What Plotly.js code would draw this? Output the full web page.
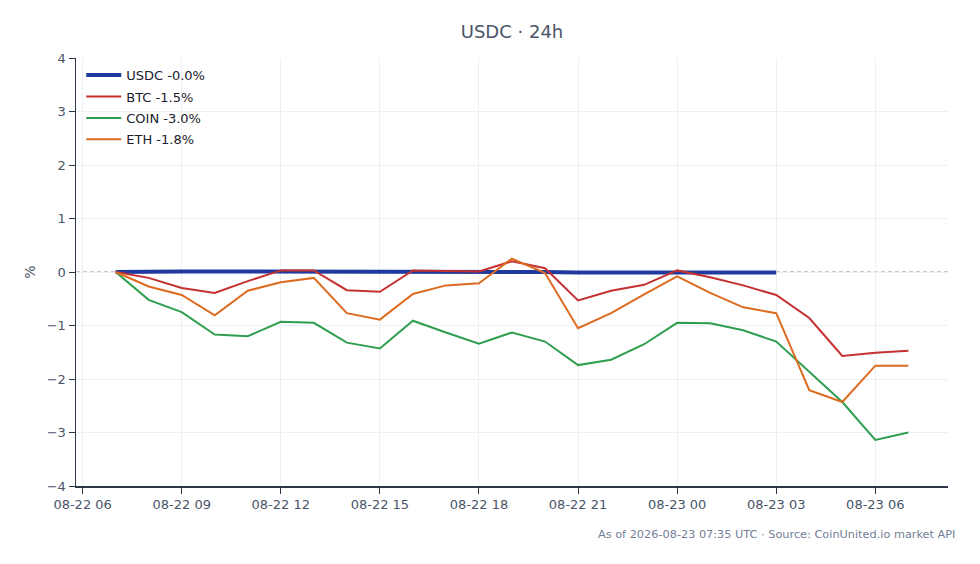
<!DOCTYPE html>
<html>
<head>
<meta charset="utf-8">
<script src="https://cdn.plot.ly/plotly-3.0.1.min.js"></script>
<style>html,body{margin:0;padding:0;background:#fff;}#chart{width:980px;height:564px;}</style>
</head>
<body>
<div id="chart"></div>
<script>
const times = [
  '2026-08-22 07:00','2026-08-22 08:00','2026-08-22 09:00','2026-08-22 10:00','2026-08-22 11:00',
  '2026-08-22 12:00','2026-08-22 13:00','2026-08-22 14:00','2026-08-22 15:00','2026-08-22 16:00',
  '2026-08-22 17:00','2026-08-22 18:00','2026-08-22 19:00','2026-08-22 20:00','2026-08-22 21:00',
  '2026-08-22 22:00','2026-08-22 23:00','2026-08-23 00:00','2026-08-23 01:00','2026-08-23 02:00',
  '2026-08-23 03:00','2026-08-23 04:00','2026-08-23 05:00','2026-08-23 06:00','2026-08-23 07:00'
];
const usdcValues = [0, 0.01, 0.01, 0.01, 0.01, 0.01, 0.01, 0.01, 0.01, 0.01, 0.0, 0.0, 0.0, 0.0, -0.01,
  -0.01, -0.01, -0.01, -0.01, -0.01, -0.01];
const btcValues = [0, -0.11, -0.30, -0.39, -0.17, 0.03, 0.03, -0.34, -0.37, 0.03, 0.02, 0.01, 0.20,
  0.07, -0.53, -0.35, -0.24, 0.03, -0.10, -0.25, -0.43, -0.86, -1.57, -1.51, -1.47];
const coinValues = [0, -0.52, -0.75, -1.17, -1.20, -0.93, -0.95, -1.32, -1.43, -0.91, -1.13, -1.34,
  -1.13, -1.30, -1.74, -1.64, -1.35, -0.95, -0.96, -1.09, -1.30, -1.87, -2.43, -3.14, -3.00];
const ethValues = [0, -0.27, -0.43, -0.81, -0.35, -0.19, -0.11, -0.77, -0.89, -0.41, -0.25, -0.21,
  0.25, -0.02, -1.05, -0.77, -0.42, -0.08, -0.39, -0.66, -0.77, -2.21, -2.43, -1.75, -1.75];
const seriesNames = ['USDC -0.0%', 'BTC -1.5%', 'COIN -3.0%', 'ETH -1.8%'];
const tickVals = ['2026-08-22 06:00','2026-08-22 09:00','2026-08-22 12:00','2026-08-22 15:00',
  '2026-08-22 18:00','2026-08-22 21:00','2026-08-23 00:00','2026-08-23 03:00','2026-08-23 06:00'];
const tickLabels = ['08-22 06','08-22 09','08-22 12','08-22 15','08-22 18','08-22 21','08-23 00','08-23 03','08-23 06'];
const titleText = 'USDC · 24h';
const sourceText = 'As of 2026-08-23 07:35 UTC · Source: CoinUnited.io market API';

const traces = [
  {x: times.slice(0, usdcValues.length), y: usdcValues, name: seriesNames[0], mode: 'lines',
   legendgroup: 'g0', line: {color: '#1e3a9e', width: 4}},
  {x: times, y: btcValues, name: seriesNames[1], mode: 'lines', legendgroup: 'g1',
   line: {color: '#c53030', width: 2}},
  {x: times, y: coinValues, name: seriesNames[2], mode: 'lines', legendgroup: 'g2',
   line: {color: '#2f9e4f', width: 2}},
  {x: times, y: ethValues, name: seriesNames[3], mode: 'lines', legendgroup: 'g3',
   line: {color: '#dd6b20', width: 2}}
];

const layout = {
  width: 980, height: 564,
  margin: {l: 76, r: 32, t: 58, b: 78},
  paper_bgcolor: '#ffffff', plot_bgcolor: '#ffffff',
  font: {family: 'DejaVu Sans, sans-serif', size: 13, color: '#4a5568'},
  title: {text: titleText, x: 0.5, xref: 'paper', xanchor: 'center', y: 0.955, yref: 'container',
    font: {size: 18, color: '#4a5568', family: 'DejaVu Sans, sans-serif'}},
  showlegend: true,
  legend: {x: 0.006, y: 0.995, xanchor: 'left', yanchor: 'top', bgcolor: 'rgba(255,255,255,0)',
    font: {size: 13, color: '#1a202c'}, tracegroupgap: 1.5, itemwidth: 35},
  xaxis: {
    type: 'date',
    range: ['2026-08-22 05:48', '2026-08-23 08:12'],
    tickvals: tickVals, ticktext: tickLabels,
    showgrid: true, gridcolor: '#edf0f3', gridwidth: 1,
    showline: true, linecolor: '#2d3748', linewidth: 1.5,
    ticks: 'outside', ticklen: 6, tickcolor: '#2d3748',
    zeroline: false, tickfont: {size: 13, color: '#4a5568'}
  },
  yaxis: {
    range: [-4, 4], dtick: 1, tick0: 0,
    title: {text: '%', font: {size: 14, color: '#4a5568'}, standoff: 8},
    showgrid: true, gridcolor: '#edf0f3', gridwidth: 1,
    showline: true, linecolor: '#2d3748', linewidth: 1.5,
    ticks: 'outside', ticklen: 6, tickcolor: '#2d3748',
    zeroline: false, tickfont: {size: 13, color: '#4a5568'}
  },
  shapes: [{type: 'line', xref: 'paper', x0: 0, x1: 1, yref: 'y', y0: 0, y1: 0,
    line: {color: '#8a94a6', width: 1, dash: '4px,3px'}, layer: 'below'}],
  annotations: [{text: sourceText, xref: 'paper', yref: 'paper', x: 1.01, y: -0.093,
    xanchor: 'right', yanchor: 'top', showarrow: false,
    font: {size: 11.3, color: '#718096', family: 'DejaVu Sans, sans-serif'}}]
};

Plotly.newPlot('chart', traces, layout, {displayModeBar: false, staticPlot: true});
</script>
</body>
</html>
